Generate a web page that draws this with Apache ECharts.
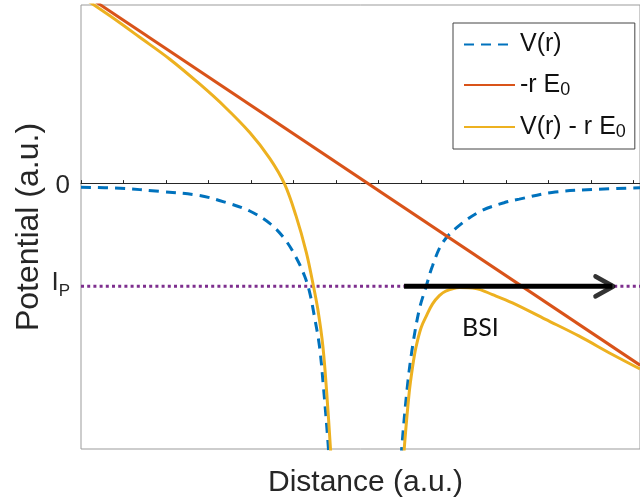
<!DOCTYPE html>
<html>
<head>
<meta charset="utf-8">
<script src="https://cdn.jsdelivr.net/npm/echarts@6/dist/echarts.min.js"></script>
<style>
  html, body { margin: 0; padding: 0; background: #ffffff; }
  #chart { width: 640px; height: 503px; }
</style>
</head>
<body>
<div id="chart"></div>
<script>
// Axis ranges: distance in a.u., potential in units of the ionization level
const xRange = [0, 13.15];
const yRange = [-2.575, 1.725];
const ionizationLevel = -1;
const yTickValues = [0, -1];
const yTickLabels = ['0', 'I_P'];
const seriesNames = ['V(r)', '-r E_0', 'V(r) - r E_0'];

// Core potential V(r)
const potentialX = [0, 0.92, 1.85, 2.79, 3.43, 3.97, 4.44, 4.79, 5.06, 5.26, 5.38, 5.49, 5.61, 5.70, 5.81, 5.85, null,
  7.51, 7.55, 7.68, 7.80, 7.96, 8.12, 8.27, 8.51, 8.90, 9.41, 9.95, 10.31, 11.08, 12.11, 13.15];
const potentialY = [-0.04, -0.05, -0.08, -0.12, -0.19, -0.27, -0.39, -0.54, -0.72, -0.90, -1.06, -1.29, -1.58, -1.96, -2.51, -2.77, null,
  -2.82, -2.54, -1.96, -1.58, -1.22, -1.00, -0.80, -0.575, -0.41, -0.27, -0.19, -0.155, -0.09, -0.06, -0.045];

// Field term -r E0
const fieldX = [0, 13.15];
const fieldY = [1.852, -1.763];

// Total potential V(r) - r E0
const totalX = [0, 0.68, 1.39, 2.09, 2.79, 3.38, 3.97, 4.44, 4.79, 5.06, 5.30, 5.45, 5.57, 5.69, 5.78, 5.87, 5.91, null,
  7.56, 7.61, 7.72, 7.80, 7.88, 8.00, 8.12, 8.27, 8.43, 8.58, 8.90, 9.29, 9.68, 10.15, 10.93, 11.71, 12.50, 13.15];
const totalY = [1.81, 1.62, 1.41, 1.20, 0.96, 0.74, 0.49, 0.24, -0.01, -0.32, -0.67, -0.96, -1.22, -1.58, -2.03, -2.58, -2.87, null,
  -2.87, -2.54, -2.03, -1.78, -1.59, -1.40, -1.29, -1.17, -1.09, -1.045, -1.01, -1.02, -1.08, -1.16, -1.32, -1.48, -1.66, -1.80];

// Escape arrow along the ionization level
const arrowX = [7.6, 12.5];

const FONT = '"Liberation Sans", Arial, sans-serif';
const TEXT = '#262626';

function pairs(xs, ys) {
  return xs.map((x, i) => (x === null ? '-' : [x, ys[i]]));
}

// 'E_0' -> rich text with a subscript
function subscripted(label, base, sub) {
  const parts = label.split('_');
  return parts.length === 1 ? `{${base}|${parts[0]}}` : `{${base}|${parts[0]}}{${sub}|${parts[1]}}`;
}

const chart = echarts.init(document.getElementById('chart'), null, { renderer: 'canvas' });

chart.setOption({
  animation: false,
  backgroundColor: '#ffffff',
  grid: {
    left: 81, right: -1, top: 5, bottom: 53,
    show: true, borderColor: '#9b9b9b', borderWidth: 1
  },
  legend: {
    data: seriesNames,
    orient: 'vertical',
    left: 453, top: 23,
    padding: [9, 9, 8, 10],
    itemGap: -2,
    itemWidth: 51, itemHeight: 14,
    borderColor: '#444444', borderWidth: 1,
    backgroundColor: '#ffffff',
    selectedMode: false,
    itemStyle: { color: 'rgba(0,0,0,0)', borderWidth: 0, opacity: 0 },
    formatter: name => subscripted(name, 'm', 's'),
    textStyle: {
      fontFamily: FONT, color: '#111111',
      rich: {
        m: { fontFamily: FONT, fontSize: 25, lineHeight: 28, color: '#111111' },
        s: { fontFamily: FONT, fontSize: 18, lineHeight: 18, color: '#111111', padding: [26, 0, 0, 0], verticalAlign: 'bottom' }
      }
    }
  },
  xAxis: [
    {
      type: 'value', min: xRange[0], max: xRange[1], position: 'bottom',
      name: 'Distance (a.u.)', nameLocation: 'middle', nameGap: 19,
      nameTextStyle: { fontFamily: FONT, fontSize: 30, color: TEXT, padding: [0, 0, 0, 10] },
      axisLine: { show: false, onZero: false },
      axisTick: { show: false }, axisLabel: { show: false }, splitLine: { show: false }
    },
    {
      // zero-potential reference line with its ticks
      type: 'value', min: xRange[0], max: xRange[1], interval: 1, position: 'bottom',
      axisLine: { show: true, onZero: true, lineStyle: { color: TEXT, width: 1 } },
      axisTick: { show: true, inside: true, length: 3, lineStyle: { color: TEXT, width: 1 } },
      axisLabel: { show: false }, splitLine: { show: false }
    }
  ],
  yAxis: {
    type: 'value', min: yRange[0], max: yRange[1], position: 'left',
    name: 'Potential (a.u.)', nameLocation: 'middle', nameGap: 36, nameMoveOverlap: false,
    nameTextStyle: { fontFamily: FONT, fontSize: 32, color: TEXT },
    axisLine: { show: false, onZero: false },
    axisTick: { show: false },
    splitLine: { show: false },
    axisLabel: {
      customValues: yTickValues,
      margin: 11,
      formatter: v => {
        const idx = yTickValues.indexOf(v);
        const label = idx >= 0 ? yTickLabels[idx] : '';
        return label.indexOf('_') >= 0 ? subscripted(label, 'i', 'p') : `{z|${label}}`;
      },
      rich: {
        z: { fontFamily: FONT, fontSize: 26, lineHeight: 26, color: TEXT, padding: [5, 0, 0, 0] },
        i: { fontFamily: FONT, fontSize: 26, lineHeight: 26, color: TEXT, padding: [0, 0, 8, 0] },
        p: { fontFamily: FONT, fontSize: 17, lineHeight: 17, color: TEXT, padding: [24, 0, 0, 0], verticalAlign: 'bottom' }
      }
    }
  },
  graphic: [{
    type: 'text', left: 462, top: 315, z: 100,
    style: { text: 'BSI', fontFamily: 'Lato, "Open Sans", sans-serif', fontSize: 25, fill: '#111111' }
  }],
  series: [
    {
      name: 'ionization level', type: 'line', silent: true, symbol: 'none', z: 1,
      data: [[xRange[0], ionizationLevel], [xRange[1], ionizationLevel]],
      lineStyle: { color: '#7E2F8E', width: 3, type: [3, 3.2] }
    },
    {
      name: seriesNames[0], type: 'line', symbol: 'none', smooth: 0.35, z: 2,
      data: pairs(potentialX, potentialY),
      color: '#0072BD',
      lineStyle: { color: '#0072BD', width: 3, type: [10, 7] }
    },
    {
      name: seriesNames[1], type: 'line', symbol: 'none', z: 3,
      data: pairs(fieldX, fieldY),
      color: '#D95319',
      lineStyle: { color: '#D95319', width: 3 }
    },
    {
      name: seriesNames[2], type: 'line', symbol: 'none', smooth: 0.35, z: 4,
      data: pairs(totalX, totalY),
      color: '#EDB120',
      lineStyle: { color: '#EDB120', width: 3 }
    },
    {
      name: 'escape', type: 'line', silent: true, symbol: 'none', z: 5,
      data: [[arrowX[0], ionizationLevel], [arrowX[1], ionizationLevel]],
      lineStyle: { color: '#000000', width: 5 }
    },
    {
      name: 'escape head', type: 'scatter', silent: true, z: 6,
      data: [[arrowX[1], ionizationLevel]],
      symbol: 'path://M0,0L18,10L0,20',
      symbolSize: [18, 20],
      symbolOffset: [-8, 0],
      itemStyle: { color: 'rgba(0,0,0,0)', borderColor: '#000000', borderWidth: 4.5, borderCap: 'round', borderJoin: 'round' }
    }
  ]
});
</script>
</body>
</html>
